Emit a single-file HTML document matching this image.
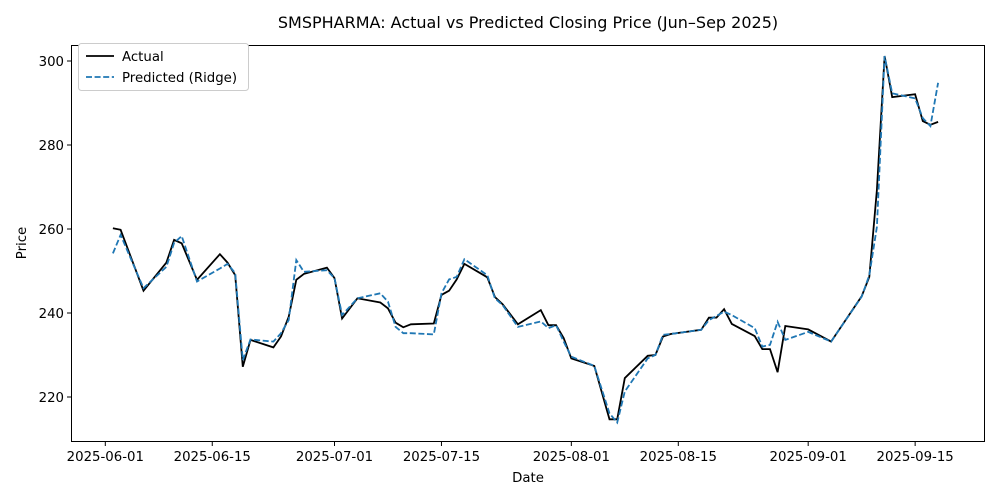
<!DOCTYPE html>
<html><head><meta charset="utf-8"><style>
body{margin:0;background:#fff;}
svg{display:block;font-family:"DejaVu Sans","Liberation Sans",sans-serif;}
</style></head><body>
<svg id="chart" width="1000" height="500" viewBox="0 0 1000 500">
<rect x="0" y="0" width="1000" height="500" fill="#fff"/>
<text x="528" y="28" text-anchor="middle" font-size="16">SMSPHARMA: Actual vs Predicted Closing Price (Jun–Sep 2025)</text>
<g id="grid"></g>
<g id="series"></g>
<rect x="71.5" y="45.5" width="913" height="396" fill="none" stroke="#000" stroke-width="1"/>
<text x="528" y="482" text-anchor="middle" font-size="13.3">Date</text>
<text transform="translate(26,243) rotate(-90)" text-anchor="middle" font-size="13.3">Price</text>
<g>
<rect x="78.5" y="43.5" width="170" height="47" rx="3" fill="#fff" stroke="#ccc"/>
<line x1="86" y1="56" x2="114" y2="56" stroke="#000" stroke-width="1.8"/>
<text x="122" y="61" font-size="13.3">Actual</text>
<line x1="86" y1="77" x2="114" y2="77" stroke="#1f77b4" stroke-width="1.8" stroke-dasharray="6,2.6"/>
<text x="122" y="82" font-size="13.3">Predicted (Ridge)</text>
</g>
</svg>
<script>
const dates=["2025-06-02","2025-06-03","2025-06-06","2025-06-09","2025-06-10","2025-06-11","2025-06-13","2025-06-16","2025-06-17","2025-06-18","2025-06-19","2025-06-20","2025-06-23","2025-06-24","2025-06-25","2025-06-26","2025-06-27","2025-06-30","2025-07-01","2025-07-02","2025-07-04","2025-07-07","2025-07-08","2025-07-09","2025-07-10","2025-07-11","2025-07-14","2025-07-15","2025-07-16","2025-07-17","2025-07-18","2025-07-21","2025-07-22","2025-07-23","2025-07-25","2025-07-28","2025-07-29","2025-07-30","2025-07-31","2025-08-01","2025-08-04","2025-08-06","2025-08-07","2025-08-08","2025-08-11","2025-08-12","2025-08-13","2025-08-14","2025-08-18","2025-08-19","2025-08-20","2025-08-21","2025-08-22","2025-08-25","2025-08-26","2025-08-27","2025-08-28","2025-08-29","2025-09-01","2025-09-04","2025-09-08","2025-09-09","2025-09-10","2025-09-11","2025-09-12","2025-09-15","2025-09-16","2025-09-17","2025-09-18"];
const actual=[260.2,259.8,245.3,252.0,257.4,256.6,247.9,254.0,252.0,249.0,227.2,233.6,231.8,234.4,239.1,247.9,249.3,250.8,248.3,238.7,243.5,242.5,241.1,237.7,236.6,237.3,237.5,244.3,245.3,248.0,251.7,248.5,243.8,242.1,237.3,240.7,237.1,237.1,234.0,229.2,227.4,214.7,214.7,224.5,229.8,230.0,234.4,235.0,236.0,238.9,238.9,240.9,237.4,234.5,231.4,231.4,225.9,236.9,236.1,233.2,244.0,248.6,269.3,301.2,291.4,292.1,285.7,284.8,285.5];
const predicted=[254.2,258.6,245.9,251.0,256.7,258.3,247.5,250.6,251.7,249.5,228.8,233.7,233.2,235.2,238.3,252.6,249.8,250.2,248.3,239.5,243.5,244.7,242.7,236.7,235.2,235.2,234.9,244.7,248.0,248.6,252.8,249.0,243.5,241.9,236.7,238.0,236.4,237.1,233.2,229.6,227.4,216.1,213.9,221.3,229.2,230.0,234.8,235.0,236.0,238.3,239.3,240.3,239.5,236.4,232.0,232.4,237.9,233.6,235.5,233.2,243.9,249.0,260.5,301.2,292.3,291.1,286.4,284.5,294.8];
const yTicks=[220,240,260,280,300];
const xTicks=["2025-06-01","2025-06-15","2025-07-01","2025-07-15","2025-08-01","2025-08-15","2025-09-01","2025-09-15"];
const NS="http://www.w3.org/2000/svg";
const day0=Date.UTC(2025,5,1);
function dayOf(s){const p=s.split("-");return (Date.UTC(+p[0],+p[1]-1,+p[2])-day0)/86400000;}
function xs(s){return 105.3+7.64*dayOf(s);}
function ys(v){return 61+(300-v)*4.2;}
const g=document.getElementById("grid");
yTicks.forEach(v=>{
 const y=ys(v);
 const l=document.createElementNS(NS,"line");
 l.setAttribute("x1",67);l.setAttribute("x2",71.5);l.setAttribute("y1",y);l.setAttribute("y2",y);l.setAttribute("stroke","#000");
 
 
 g.appendChild(l);
 const t=document.createElementNS(NS,"text");
 t.setAttribute("x",64);t.setAttribute("y",y+4.8);t.setAttribute("text-anchor","end");t.setAttribute("font-size","13.3");
 t.textContent=v;
 
 
 g.appendChild(t);
});
xTicks.forEach(s=>{
 const x=xs(s);
 const l=document.createElementNS(NS,"line");
 l.setAttribute("x1",x);l.setAttribute("x2",x);l.setAttribute("y1",441.5);l.setAttribute("y2",446);l.setAttribute("stroke","#000");
 
 
 g.appendChild(l);
 const t=document.createElementNS(NS,"text");
 t.setAttribute("x",x);t.setAttribute("y",461);t.setAttribute("text-anchor","middle");t.setAttribute("font-size","13.3");
 t.textContent=s;
 
 
 g.appendChild(t);
});
const sg=document.getElementById("series");
function line(vals,color,dash,name){
 const p=document.createElementNS(NS,"polyline");
 p.setAttribute("points",vals.map((v,i)=>xs(dates[i]).toFixed(1)+","+ys(v).toFixed(1)).join(" "));
 p.setAttribute("fill","none");p.setAttribute("stroke",color);p.setAttribute("stroke-width","1.8");
 if(dash)p.setAttribute("stroke-dasharray",dash);
 
 
 sg.appendChild(p);
}
line(actual,"#000",null,"actual-line");
line(predicted,"#1f77b4","6,2.6","predicted-line");
</script>
</body></html>
